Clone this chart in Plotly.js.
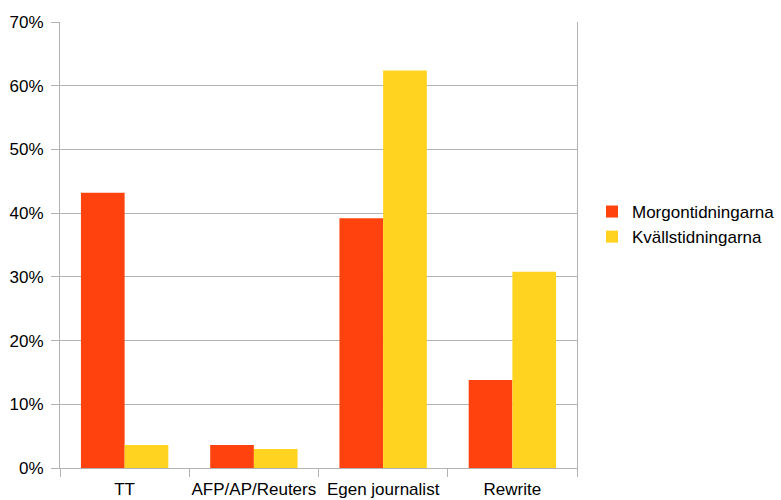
<!DOCTYPE html>
<html>
<head>
<meta charset="utf-8">
<script src="https://cdn.plot.ly/plotly-3.0.1.min.js"></script>
<style>html,body{margin:0;padding:0;background:#fff;}#chart{width:781px;height:500px;}</style>
</head>
<body>
<div id="chart"></div>
<script>
const categories = ["TT", "AFP/AP/Reuters", "Egen journalist", "Rewrite"];
const seriesNames = ["Morgontidningarna", "Kvällstidningarna"];
const morgon = [0.432, 0.036, 0.392, 0.138];
const kvall = [0.036, 0.030, 0.624, 0.308];
const colors = ["#FF420E", "#FFD320"];
const yTickVals = [0, 0.1, 0.2, 0.3, 0.4, 0.5, 0.6, 0.7];
const yTickText = ["0%", "10%", "20%", "30%", "40%", "50%", "60%", "70%"];

const font = {family: "Liberation Sans, Arial, sans-serif", size: 17, color: "#000"};
const grid = "#b3b3b3";

const traces = [morgon, kvall].map((vals, i) => ({
  type: "bar",
  x: categories,
  y: vals,
  name: seriesNames[i],
  marker: {color: colors[i], line: {width: 0}},
  hoverinfo: "none"
}));

const layout = {
  width: 781, height: 500,
  margin: {l: 60, r: 204, t: 22, b: 32, pad: 0, autoexpand: false},
  paper_bgcolor: "#fff", plot_bgcolor: "#fff",
  font: font,
  barmode: "group",
  bargap: 0.324,
  bargroupgap: 0,
  showlegend: true,
  legend: {
    x: 1.029, xanchor: "left", y: 0.546, yanchor: "middle",
    font: {family: font.family, size: 17, color: "#000"},
    itemwidth: 30, bgcolor: "rgba(0,0,0,0)", borderwidth: 0,
    traceorder: "normal"
  },
  xaxis: {
    type: "category",
    showline: true, linecolor: grid, linewidth: 1,
    ticks: "outside", tickson: "boundaries", ticklen: 8, tickcolor: grid, tickwidth: 1,
    showgrid: false, zeroline: false, tickangle: 0, automargin: false,
    tickfont: font, ticklabelstandoff: 6
  },
  yaxis: {
    range: [0, 0.7],
    tickvals: yTickVals, ticktext: yTickText,
    showline: true, linecolor: grid, linewidth: 1, mirror: true,
    ticks: "outside", ticklen: 8, tickcolor: grid, tickwidth: 1,
    showgrid: true, gridcolor: grid, gridwidth: 1,
    zeroline: false, automargin: false,
    tickfont: font, ticklabelstandoff: 4
  }
};

Plotly.newPlot("chart", traces, layout, {staticPlot: true, displayModeBar: false});
</script>
</body>
</html>
